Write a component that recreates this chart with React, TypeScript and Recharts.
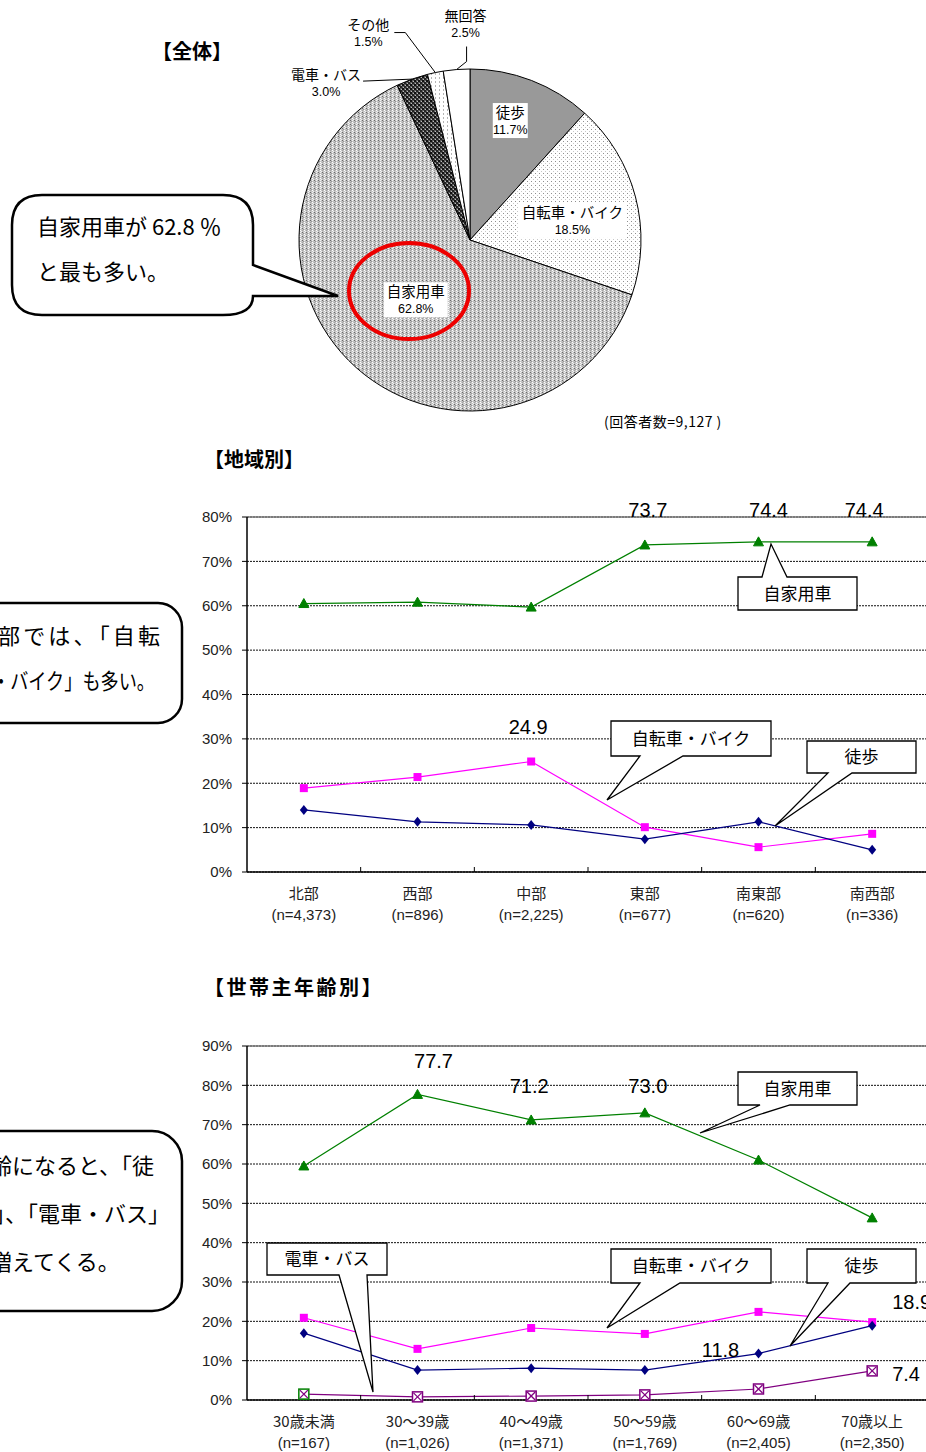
import React from "react";
import {
  PieChart,
  Pie,
  Cell,
  LineChart,
  Line,
  XAxis,
  YAxis,
  CartesianGrid,
  LabelList,
  ReferenceLine,
} from "recharts";

// ---------- DATA ----------
const pieNames = ["徒歩", "自転車・バイク", "自家用車", "電車・バス", "その他", "無回答"];
const pieValues = [11.7, 18.5, 62.8, 3.0, 1.5, 2.5];

const regionCategories = ["北部", "西部", "中部", "東部", "南東部", "南西部"];
const regionCounts = ["(n=4,373)", "(n=896)", "(n=2,225)", "(n=677)", "(n=620)", "(n=336)"];
const regionCar = [60.5, 60.8, 59.7, 73.7, 74.4, 74.4];
const regionBike = [18.9, 21.4, 24.9, 10.1, 5.6, 8.6];
const regionWalk = [14.0, 11.3, 10.6, 7.4, 11.3, 5.0];
const regionTicks = [0, 10, 20, 30, 40, 50, 60, 70, 80];

const ageCategories = ["30歳未満", "30～39歳", "40～49歳", "50～59歳", "60～69歳", "70歳以上"];
const ageCounts = ["(n=167)", "(n=1,026)", "(n=1,371)", "(n=1,769)", "(n=2,405)", "(n=2,350)"];
const ageCar = [59.5, 77.7, 71.2, 73.0, 61.0, 46.3];
const ageBike = [20.9, 13.0, 18.3, 16.8, 22.4, 19.8];
const ageWalk = [17.0, 7.6, 8.1, 7.6, 11.8, 18.9];
const ageTrain = [1.5, 0.8, 1.0, 1.3, 2.8, 7.4];
const ageTicks = [0, 10, 20, 30, 40, 50, 60, 70, 80, 90];

// ---------- STYLE ----------
const NUM = "'Liberation Sans', Arial, 'Noto Sans CJK JP', sans-serif";
const JP = "'Noto Sans CJK JP', 'Liberation Sans', sans-serif";
const GREEN = "#008000";
const MAGENTA = "#FF00FF";
const NAVY = "#000080";
const PURPLE = "#800080";

const pieFills = ["#999999", "url(#pBike)", "url(#pCar)", "url(#pTrain)", "url(#pOther)", "#ffffff"];
// label placement styles for the pie (radius factor / angle shift, or outside leader)
const pieLabelStyle: any[] = [
  { mode: "in", r: 0.74, da: 2.5 },
  { mode: "in", r: 0.61, da: -3.5 },
  { mode: "in", r: 0.47, da: -0.7 },
  { mode: "out", path: [[0, 0], [-49, 2]], tx: -86, ty: 1 },
  { mode: "out", path: [[0, 0], [-30, -40], [-41, -40]], tx: -67, ty: -43 },
  { mode: "out", path: [[0, 0], [10, -8], [10, -23]], tx: 9, ty: -49 },
];

const RAD = Math.PI / 180;

const renderPieLabel = (p: any) => {
  const { cx, cy, midAngle, outerRadius, index, value } = p;
  const st = pieLabelStyle[index];
  const name = pieNames[index];
  const pct = `${Number(value).toFixed(1)}%`;
  if (st.mode === "in") {
    const a = midAngle + st.da;
    const r = outerRadius * st.r;
    const x = cx + r * Math.cos(-a * RAD);
    const y = cy + r * Math.sin(-a * RAD);
    const w = name.length * 14.5 + 6;
    return (
      <g key={`pl${index}`}>
        <rect x={x - w / 2} y={y - 17} width={w} height={35} fill="#fff" />
        <text x={x} y={y - 2} textAnchor="middle" fontFamily={JP} fontSize={14.5} fill="#000">
          {name}
        </text>
        <text x={x} y={y + 14} textAnchor="middle" fontFamily={NUM} fontSize={12.5} fill="#000">
          {pct}
        </text>
      </g>
    );
  }
  const ex = cx + outerRadius * Math.cos(-midAngle * RAD);
  const ey = cy + outerRadius * Math.sin(-midAngle * RAD);
  const pts = st.path.map((q: number[]) => `${ex + q[0]},${ey + q[1]}`).join(" ");
  const tx = ex + st.tx;
  const ty = ey + st.ty;
  return (
    <g key={`pl${index}`}>
      <polyline points={pts} fill="none" stroke="#000" strokeWidth={1} />
      <text x={tx} y={ty} textAnchor="middle" fontFamily={JP} fontSize={14} fill="#000">
        {name}
      </text>
      <text x={tx} y={ty + 16} textAnchor="middle" fontFamily={NUM} fontSize={12.5} fill="#000">
        {pct}
      </text>
    </g>
  );
};

// ---------- markers ----------
const Tri = (p: any) => {
  const { cx, cy, stroke } = p;
  if (cx == null || cy == null) return null;
  return <polygon points={`${cx},${cy - 5} ${cx + 5},${cy + 4} ${cx - 5},${cy + 4}`} fill={stroke} stroke={stroke} />;
};
const Sq = (p: any) => {
  const { cx, cy, stroke } = p;
  if (cx == null || cy == null) return null;
  return <rect x={cx - 4} y={cy - 4} width={8} height={8} fill={stroke} />;
};
const Dia = (p: any) => {
  const { cx, cy, stroke } = p;
  if (cx == null || cy == null) return null;
  return <polygon points={`${cx},${cy - 5} ${cx + 4},${cy} ${cx},${cy + 5} ${cx - 4},${cy}`} fill={stroke} />;
};
const XSq = (p: any) => {
  const { cx, cy, stroke, index } = p;
  if (cx == null || cy == null) return null;
  const box = index === 0 ? GREEN : stroke;
  return (
    <g>
      <rect x={cx - 5} y={cy - 5} width={10} height={10} fill="#fff" stroke={box} strokeWidth={1.5} />
      <line x1={cx - 4} y1={cy - 4} x2={cx + 4} y2={cy + 4} stroke={stroke} strokeWidth={1.3} />
      <line x1={cx + 4} y1={cy - 4} x2={cx - 4} y2={cy + 4} stroke={stroke} strokeWidth={1.3} />
    </g>
  );
};

// value label specs: index -> offset
const makeValueLabel = (spec: Record<number, { dx: number; dy: number; anchor?: string }>) => (p: any) => {
  const { x, y, value, index } = p;
  const s = spec[index];
  if (!s) return null;
  return (
    <text
      key={`vl${index}`}
      x={x + s.dx}
      y={y + s.dy}
      textAnchor={s.anchor || "middle"}
      fontFamily={NUM}
      fontSize={20}
      fill="#000"
    >
      {Number(value).toFixed(1)}
    </text>
  );
};

// ---------- axis tick ----------
const CHART_W = 929;
const Y_W = 247;
const BAND = (CHART_W - Y_W) / 6;

const makeCatTick = (counts: string[]) => (p: any) => {
  const { x, y, payload, index } = p;
  return (
    <g>
      {index < 5 && (
        <line x1={x + BAND / 2} x2={x + BAND / 2} y1={y} y2={y - 5} stroke="#000" strokeWidth={1} />
      )}
      <text x={x} y={y + 27} textAnchor="middle" fontFamily={JP} fontSize={15} fill="#222">
        {payload.value}
      </text>
      <text x={x} y={y + 48} textAnchor="middle" fontFamily={NUM} fontSize={15} fill="#222">
        {counts[index]}
      </text>
    </g>
  );
};

// ---------- callouts ----------
type CalloutProps = {
  x: number;
  y: number;
  w: number;
  h: number;
  text: string;
  side: "top" | "bottom";
  b1: number;
  b2: number;
  tip: [number, number];
};
const Callout = ({ x, y, w, h, text, side, b1, b2, tip }: CalloutProps) => {
  const r = x + w;
  const b = y + h;
  const d =
    side === "top"
      ? `M${x},${y} L${b1},${y} L${tip[0]},${tip[1]} L${b2},${y} L${r},${y} L${r},${b} L${x},${b} Z`
      : `M${x},${y} L${r},${y} L${r},${b} L${b2},${b} L${tip[0]},${tip[1]} L${b1},${b} L${x},${b} Z`;
  return (
    <g>
      <path d={d} fill="#fff" stroke="#000" strokeWidth={1.3} strokeLinejoin="miter" />
      <text x={x + w / 2} y={y + h / 2 + 6} textAnchor="middle" fontFamily={JP} fontSize={17} fill="#000">
        {text}
      </text>
    </g>
  );
};

const Bubble = ({ x, y, w, h, rad }: any) => (
  <rect x={x} y={y} width={w} height={h} rx={rad} ry={rad} fill="#fff" stroke="#000" strokeWidth={2.5} />
);

// ---------- chart data tables ----------
const pieData = pieNames.map((n, i) => ({ name: n, value: pieValues[i] }));
const regionData = regionCategories.map((c, i) => ({
  name: c,
  car: regionCar[i],
  bike: regionBike[i],
  walk: regionWalk[i],
}));
const ageData = ageCategories.map((c, i) => ({
  name: c,
  car: ageCar[i],
  bike: ageBike[i],
  walk: ageWalk[i],
  train: ageTrain[i],
}));

const yTickStyle = { fontFamily: NUM, fontSize: 15, fill: "#222" };

export default function App() {
  return (
    <div
      style={{
        position: "absolute",
        left: 0,
        top: 0,
        width: 926,
        height: 1452,
        overflow: "hidden",
        background: "#fff",
      }}
    >
      {/* Pie */}
      <div style={{ position: "absolute", left: 270, top: 0 }}>
        <PieChart width={400} height={440} margin={{ top: 0, right: 0, bottom: 0, left: 0 }}>
          <defs>
            <pattern id="pBike" width="4" height="4" patternUnits="userSpaceOnUse">
              <rect width="4" height="4" fill="#ffffff" />
              <rect x="1" y="1" width="1" height="1" fill="#8f8f8f" />
              <rect x="3" y="3" width="1" height="1" fill="#c8c8c8" />
            </pattern>
            <pattern id="pCar" width="4" height="4" patternUnits="userSpaceOnUse">
              <rect width="4" height="4" fill="#c4c4c4" />
              <rect x="0" y="0" width="1" height="1" fill="#6a6a6a" />
              <rect x="1" y="1" width="1" height="1" fill="#969696" />
              <rect x="2" y="2" width="1" height="1" fill="#ffffff" />
              <rect x="3" y="3" width="1" height="1" fill="#eeeeee" />
              <rect x="2" y="0" width="1" height="1" fill="#f4f4f4" />
              <rect x="0" y="2" width="1" height="1" fill="#a0a0a0" />
            </pattern>
            <pattern id="pTrain" width="4" height="4" patternUnits="userSpaceOnUse">
              <rect width="4" height="4" fill="#5a5a5a" />
              <rect x="0" y="0" width="2" height="2" fill="#111111" />
              <rect x="2" y="2" width="2" height="2" fill="#222222" />
              <rect x="1" y="3" width="1" height="1" fill="#bdbdbd" />
              <rect x="3" y="1" width="1" height="1" fill="#bdbdbd" />
            </pattern>
            <pattern id="pOther" width="4" height="4" patternUnits="userSpaceOnUse">
              <rect width="4" height="4" fill="#ffffff" />
              <rect x="1" y="1" width="1" height="2" fill="#b5b5b5" />
            </pattern>
          </defs>
          <Pie
            data={pieData}
            dataKey="value"
            nameKey="name"
            cx={200}
            cy={240}
            outerRadius={171}
            startAngle={90}
            endAngle={-270}
            stroke="#000"
            strokeWidth={1}
            isAnimationActive={false}
            label={renderPieLabel}
            labelLine={false}
          >
            {pieData.map((d, i) => (
              <Cell key={d.name} fill={pieFills[i]} />
            ))}
          </Pie>
        </PieChart>
      </div>

      {/* Region chart */}
      <div style={{ position: "absolute", left: 0, top: 490 }}>
        <LineChart
          width={CHART_W}
          height={442}
          data={regionData}
          margin={{ top: 27, right: 0, left: 0, bottom: 0 }}
        >
          <CartesianGrid vertical={false} stroke="#111" strokeDasharray="2 1" />
          <XAxis
            dataKey="name"
            scale="band"
            height={60}
            axisLine={{ stroke: "#000", strokeWidth: 1.5 }}
            tickLine={false}
            tickSize={0}
            tickMargin={0}
            interval={0}
            tick={makeCatTick(regionCounts)}
          />
          <YAxis
            width={Y_W}
            domain={[0, 80]}
            ticks={regionTicks}
            tickFormatter={(v: number) => `${v}%`}
            axisLine={{ stroke: "#000", strokeWidth: 1.5 }}
            tickLine={{ stroke: "#000" }}
            tickSize={5}
            tickMargin={10}
            tick={yTickStyle}
          />
          <ReferenceLine y={80} stroke="#777" strokeWidth={1.5} />
          <Line type="linear" dataKey="car" stroke={GREEN} strokeWidth={1.2} dot={<Tri />} isAnimationActive={false}>
            <LabelList
              dataKey="car"
              content={makeValueLabel({ 3: { dx: 3, dy: -28 }, 4: { dx: 10, dy: -25 }, 5: { dx: -8, dy: -25 } })}
            />
          </Line>
          <Line type="linear" dataKey="bike" stroke={MAGENTA} strokeWidth={1.2} dot={<Sq />} isAnimationActive={false}>
            <LabelList dataKey="bike" content={makeValueLabel({ 2: { dx: -3, dy: -28 } })} />
          </Line>
          <Line type="linear" dataKey="walk" stroke={NAVY} strokeWidth={1.2} dot={<Dia />} isAnimationActive={false} />
        </LineChart>
      </div>

      {/* Age chart */}
      <div style={{ position: "absolute", left: 0, top: 1020 }}>
        <LineChart
          width={CHART_W}
          height={440}
          data={ageData}
          margin={{ top: 26, right: 0, left: 0, bottom: 0 }}
        >
          <CartesianGrid vertical={false} stroke="#111" strokeDasharray="2 1" />
          <XAxis
            dataKey="name"
            scale="band"
            height={60}
            axisLine={{ stroke: "#000", strokeWidth: 1.5 }}
            tickLine={false}
            tickSize={0}
            tickMargin={0}
            interval={0}
            tick={makeCatTick(ageCounts)}
          />
          <YAxis
            width={Y_W}
            domain={[0, 90]}
            ticks={ageTicks}
            tickFormatter={(v: number) => `${v}%`}
            axisLine={{ stroke: "#000", strokeWidth: 1.5 }}
            tickLine={{ stroke: "#000" }}
            tickSize={5}
            tickMargin={10}
            tick={yTickStyle}
          />
          <ReferenceLine y={90} stroke="#777" strokeWidth={1.5} />
          <Line type="linear" dataKey="car" stroke={GREEN} strokeWidth={1.2} dot={<Tri />} isAnimationActive={false}>
            <LabelList
              dataKey="car"
              content={makeValueLabel({ 1: { dx: 16, dy: -26 }, 2: { dx: -2, dy: -27 }, 3: { dx: 3, dy: -20 } })}
            />
          </Line>
          <Line type="linear" dataKey="bike" stroke={MAGENTA} strokeWidth={1.2} dot={<Sq />} isAnimationActive={false} />
          <Line type="linear" dataKey="walk" stroke={NAVY} strokeWidth={1.2} dot={<Dia />} isAnimationActive={false}>
            <LabelList
              dataKey="walk"
              content={makeValueLabel({ 4: { dx: -38, dy: 3 }, 5: { dx: 20, dy: -17, anchor: "start" } })}
            />
          </Line>
          <Line type="linear" dataKey="train" stroke={PURPLE} strokeWidth={1.2} dot={<XSq />} isAnimationActive={false}>
            <LabelList dataKey="train" content={makeValueLabel({ 5: { dx: 20, dy: 10, anchor: "start" } })} />
          </Line>
        </LineChart>
      </div>

      {/* Overlay annotations */}
      <svg
        width={926}
        height={1452}
        style={{ position: "absolute", left: 0, top: 0, pointerEvents: "none" }}
      >
        {/* titles */}
        <text x={152} y={59} fontFamily={JP} fontWeight="bold" fontSize={20} fill="#000">
          【全体】
        </text>
        <text x={204} y={467} fontFamily={JP} fontWeight="bold" fontSize={20} fill="#000">
          【地域別】
        </text>
        <text x={204} y={995} fontFamily={JP} fontWeight="bold" fontSize={20} fill="#000" letterSpacing={2.5}>
          【世帯主年齢別】
        </text>
        <text x={604} y={427} fontFamily={JP} fontSize={14} fill="#000" letterSpacing={0.5}>
          (回答者数=9,127 )
        </text>

        {/* red ellipse */}
        <ellipse cx={409} cy={291} rx={60} ry={48} fill="none" stroke="#ee0000" strokeWidth={4} />

        {/* pie bubble */}
        <path
          d="M42,195 L223,195 Q253,195 253,225 L253,265 L338,296 L253,296 Q253,315 223,315 L42,315 Q12,315 12,285 L12,225 Q12,195 42,195 Z"
          fill="#fff"
          stroke="#000"
          strokeWidth={2.5}
        />
        <text x={37} y={235} fontFamily={JP} fontSize={22} fill="#000">
          自家用車が 62.8 ％
        </text>
        <text x={37} y={280} fontFamily={JP} fontSize={22} fill="#000">
          と最も多い。
        </text>

        {/* region bubble */}
        <Bubble x={-30} y={603} w={212} h={120} rad={24} />
        <text x={-2} y={644} fontFamily={JP} fontSize={22} fill="#000" textLength={162} lengthAdjust="spacing">
          部では、「自転
        </text>
        <text x={-8} y={689} fontFamily={JP} fontSize={22} fill="#000" textLength={163} lengthAdjust="spacingAndGlyphs">
          ・バイク」も多い。
        </text>

        {/* region callouts */}
        <Callout x={738} y={577} w={119} h={33} text="自家用車" side="top" b1={762} b2={787} tip={[771, 544]} />
        <Callout x={611} y={721} w={160} h={35} text="自転車・バイク" side="bottom" b1={640} b2={683} tip={[607, 800]} />
        <Callout x={807} y={741} w={109} h={32} text="徒歩" side="bottom" b1={828} b2={852} tip={[775, 826]} />

        {/* age bubble */}
        <Bubble x={-30} y={1131} w={212} h={180} rad={30} />
        <text x={-10} y={1174} fontFamily={JP} fontSize={22} fill="#000">
          齢になると、「徒
        </text>
        <text x={-6} y={1222} fontFamily={JP} fontSize={22} fill="#000">
          」、「電車・バス」
        </text>
        <text x={-10} y={1270} fontFamily={JP} fontSize={22} fill="#000">
          増えてくる。
        </text>

        {/* age callouts */}
        <Callout x={738} y={1072} w={119} h={33} text="自家用車" side="bottom" b1={760} b2={790} tip={[700, 1133]} />
        <Callout x={267} y={1243} w={120} h={32} text="電車・バス" side="bottom" b1={339} b2={367} tip={[373, 1392]} />
        <Callout x={611} y={1249} w={160} h={34} text="自転車・バイク" side="bottom" b1={640} b2={680} tip={[607, 1328]} />
        <Callout x={807} y={1249} w={109} h={34} text="徒歩" side="bottom" b1={828} b2={850} tip={[790, 1346]} />
      </svg>
    </div>
  );
}
